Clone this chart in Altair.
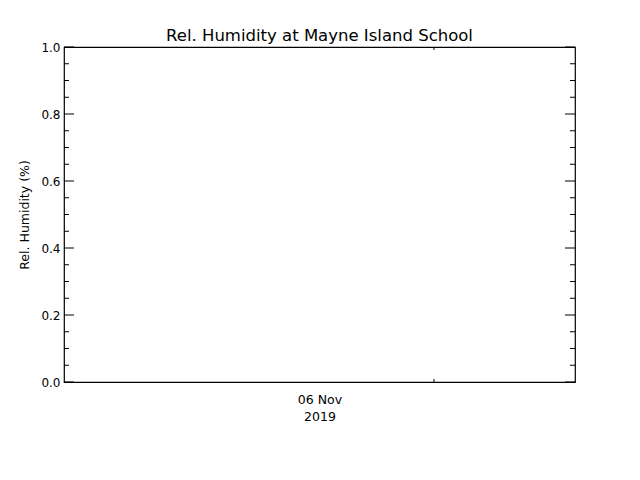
import altair as alt
import pandas as pd

# ---- chart content ----
title_text = "Rel. Humidity at Mayne Island School"
y_title = "Rel. Humidity (%)"
y_major = [0.0, 0.2, 0.4, 0.6, 0.8, 1.0]
y_minor = [0.05, 0.1, 0.15, 0.25, 0.3, 0.35, 0.45, 0.5, 0.55,
           0.65, 0.7, 0.75, 0.85, 0.9, 0.95]
x_label_pos = [0.5]
x_label_lines = ["06 Nov", "2019"]
x_tick_pos = [0.724]

W, H = 511, 335
FONT = "DejaVu Sans"

xs = alt.Scale(domain=[0, 1], nice=False, zero=False)
ys = alt.Scale(domain=[0, 1], nice=False, zero=False)

label_expr = "[" + ", ".join("'" + s + "'" for s in x_label_lines) + "]"

base = alt.Chart(pd.DataFrame({"x": x_label_pos, "y": [0.0]})).mark_point(opacity=0).encode(
    x=alt.X("x:Q", scale=xs,
            axis=alt.Axis(values=x_label_pos, labelExpr=label_expr, ticks=False, domain=False,
                          grid=False, title=None, labelFont=FONT, labelFontSize=12.5,
                          labelColor="black", labelPadding=11, labelLineHeight=17)),
    y=alt.Y("y:Q", scale=ys,
            axis=alt.Axis(values=y_major, format=".1f", ticks=False, domain=False, grid=False,
                          title=y_title, titleFont=FONT, titleFontSize=12.5,
                          titleFontWeight="normal", titleColor="black", titlePadding=9,
                          labelFont=FONT, labelFontSize=12, labelColor="black",
                          labelPadding=4)),
)

maj = pd.DataFrame({"v": y_major})
mnr = pd.DataFrame({"v": y_minor})
xt = pd.DataFrame({"v": x_tick_pos})

def yrule(df, x0, x1):
    return alt.Chart(df).mark_rule(color="black", strokeWidth=1).encode(
        y=alt.Y("v:Q", scale=ys), x=alt.value(x0), x2=alt.value(x1))

def xrule(df, y0, y1):
    return alt.Chart(df).mark_rule(color="black", strokeWidth=1).encode(
        x=alt.X("v:Q", scale=xs), y=alt.value(y0), y2=alt.value(y1))

layers = [
    base,
    yrule(maj, 0, 10), yrule(maj, W - 10, W),
    yrule(mnr, 0, 5), yrule(mnr, W - 5, W),
    xrule(xt, H - 3, H), xrule(xt, 0, 3),
]

chart = alt.layer(*layers).properties(
    width=W, height=H,
    title=alt.TitleParams(title_text, font=FONT, fontSize=16.5, fontWeight="normal",
                          color="black", offset=-3),
    autosize=alt.AutoSizeParams(type="none"),
    padding={"left": 56, "top": 39, "right": 57, "bottom": 90},
    background="white",
).configure_view(stroke="black", strokeWidth=1.2)

chart.save("out.html", embed_options={"renderer": "svg", "actions": False})
